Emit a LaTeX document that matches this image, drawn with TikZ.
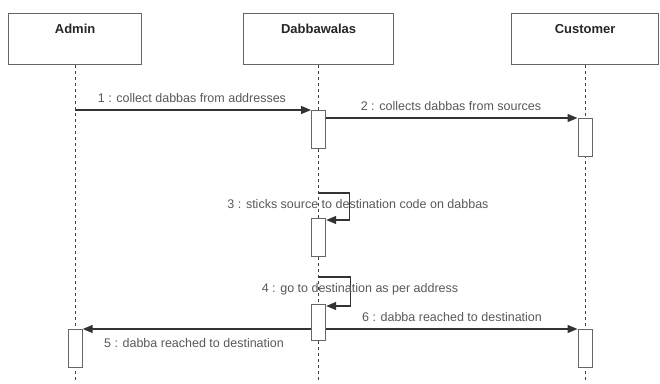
\documentclass[tikz,border=0pt]{standalone}
\usepackage{fontspec}
\setmainfont{Liberation Sans}
\usetikzlibrary{arrows.meta,positioning}
\tikzset{
  actor/.style={draw=black!60, line width=1.2pt, minimum height=51pt, inner sep=0pt, anchor=north west},
  actname/.style={font=\bfseries\fontsize{13}{15}\selectfont, text=black!85, inner sep=0pt},
  lifeline/.style={draw=black!75, line width=1pt, dash pattern=on 3pt off 3pt},
  activ/.style={draw=black!60, line width=1.2pt, fill=white, minimum width=14pt, inner sep=0pt, anchor=north},
  msg/.style={draw=black!80, line width=1.3pt, -{Triangle[length=10pt,width=8pt]}},
  lbl/.style={font=\fontsize{12.5}{14}\selectfont, text=black!65, inner sep=0pt}
}
\begin{document}
\begin{tikzpicture}[x=1pt,y=-1pt]
	%%%%% START %%%%%
	\useasboundingbox (0,0) rectangle (660,383);
	
	% actors
	\node[actor, minimum width=133pt] (admin) at (8,13) {};
	\node[actor, minimum width=150pt] (dabba) at (243,13) {};
	\node[actor, minimum width=147pt] (cust) at (511,13) {};
	\node[actname] (adminname) at ([yshift=-16pt]admin.north) {Admin};
	\node[actname] (dabbaname) at ([yshift=-16pt]dabba.north) {Dabbawalas};
	\node[actname] (custname) at ([yshift=-16pt]cust.north) {Customer};
	
	% lifelines
	\coordinate (adminend) at (admin.south |- 0,383);
	\coordinate (dabbaend) at (dabba.south |- 0,383);
	\coordinate (custend) at (cust.south |- 0,383);
	\draw[lifeline] (admin.south) -- (adminend);
	\draw[lifeline] (dabba.south) -- (dabbaend);
	\draw[lifeline] (cust.south) -- (custend);
	
	% activations
	\node[activ, minimum height=38pt] (d1) at (dabba.south |- 0,110) {};
	\node[activ, minimum height=38pt] (c1) at (cust.south |- 0,118) {};
	\node[activ, minimum height=38pt] (d2) at (dabba.south |- 0,218) {};
	\node[activ, minimum height=36pt] (d3) at (dabba.south |- 0,304) {};
	\node[activ, minimum height=38pt] (a1) at (admin.south |- 0,329) {};
	\node[activ, minimum height=38pt] (c2) at (cust.south |- 0,329) {};
	
	% messages
	\coordinate (s1) at (admin.south |- d1.north);
	\draw[msg] (s1) -- (d1.north west);
	\node[lbl] (l1) at (192,98) {1 : collect dabbas from addresses};
	
	\draw[msg] (d1.east |- c1.north) -- (c1.north west);
	\node[lbl] (l2) at (451,106) {2 : collects dabbas from sources};
	
	\coordinate (s3) at (dabba.south |- 0,193);
	\draw[msg] (s3) -- ++(31,0) |- ([yshift=-2pt]d2.north east);
	\node[lbl] (l3) at (358,204) {3 : sticks source to destination code on dabbas};
	
	\coordinate (s4) at (dabba.south |- 0,277);
	\draw[msg] (s4) -- ++(32,0) |- ([yshift=-2pt]d3.north east);
	\node[lbl] (l4) at (360,289) {4 : go to destination as per address};
	
	\draw[msg] (d3.west |- a1.north) -- (a1.north east);
	\node[lbl] (l5) at (194,343) {5 : dabba reached to destination};
	
	\draw[msg] (d3.east |- c2.north) -- (c2.north west);
	\node[lbl] (l6) at (452,317) {6 : dabba reached to destination};
	%%%%% END %%%%%
\end{tikzpicture}
\end{document}
